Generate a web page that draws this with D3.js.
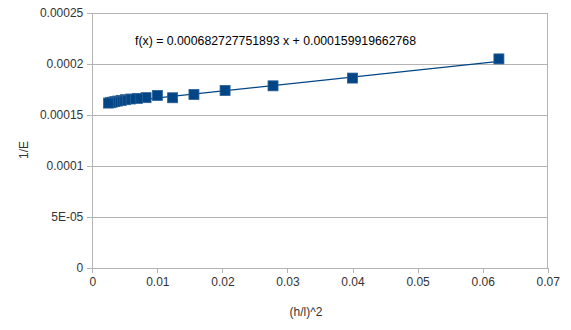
<!DOCTYPE html>
<html><head><meta charset="utf-8">
<script src="https://cdn.jsdelivr.net/npm/d3@7/dist/d3.min.js"></script>
<style>html,body{margin:0;padding:0;background:#fff;}svg{display:block;font-family:"Liberation Sans",Arial,sans-serif;}</style>
</head><body>
<script>
const xValues = [0.0625, 0.04, 0.02778, 0.02041, 0.015625, 0.012346, 0.01, 0.008264, 0.006944, 0.005917, 0.005102, 0.004444, 0.003906, 0.00346, 0.003086, 0.00277, 0.0025];
const yValues = [0.000205, 0.0001862, 0.0001786, 0.000174, 0.0001701, 0.0001669, 0.0001692, 0.0001670, 0.0001663, 0.0001657, 0.0001650, 0.0001643, 0.0001637, 0.0001631, 0.0001626, 0.0001621, 0.0001617];
const xTicks = [0, 0.01, 0.02, 0.03, 0.04, 0.05, 0.06, 0.07];
const xTickLabels = ["0", "0.01", "0.02", "0.03", "0.04", "0.05", "0.06", "0.07"];
const yTicks = [0, 0.00005, 0.0001, 0.00015, 0.0002, 0.00025];
const yTickLabels = ["0", "5E-05", "0.0001", "0.00015", "0.0002", "0.00025"];
const slope = 0.000682727751893, intercept = 0.000159919662768;
const equationText = "f(x) = 0.000682727751893 x + 0.000159919662768";
const xTitle = "(h/l)^2", yTitle = "1/E";

const W = 571, H = 330;
const svg = d3.select("body").append("svg").attr("width", W).attr("height", H);
const x = d3.scaleLinear().domain([0, 0.07]).range([92.3, 547.7]);
const y = d3.scaleLinear().domain([0, 0.00025]).range([268, 13]);

svg.append("g").selectAll("line").data(yTicks.slice(1)).join("line")
  .attr("x1", x(0)).attr("x2", x(0.07)).attr("y1", d => y(d)).attr("y2", d => y(d))
  .attr("stroke", "#b3b3b3").attr("stroke-width", 1).attr("shape-rendering", "crispEdges");
svg.append("line").attr("x1", x(0.07)).attr("x2", x(0.07)).attr("y1", y(0.00025)).attr("y2", y(0))
  .attr("stroke", "#b3b3b3").attr("shape-rendering", "crispEdges");

const xAxis = d3.axisBottom(x).tickValues(xTicks).tickFormat((d, i) => xTickLabels[i]).tickSize(5).tickPadding(4);
const gx = svg.append("g").attr("transform", `translate(0,${y(0)})`).call(xAxis);
const yAxis = d3.axisLeft(y).tickValues(yTicks).tickFormat((d, i) => yTickLabels[i]).tickSize(5).tickPadding(4);
const gy = svg.append("g").attr("transform", `translate(${x(0)},0)`).call(yAxis);
[gx, gy].forEach(g => {
  g.selectAll(".domain").attr("stroke", "#b3b3b3").attr("shape-rendering", "crispEdges");
  g.selectAll(".tick line").attr("stroke", "#b3b3b3").attr("shape-rendering", "crispEdges");
  g.selectAll(".tick text").attr("fill", "#333").attr("font-size", "12px").attr("font-family", "Liberation Sans, Arial, sans-serif");
});
gx.select(".domain").attr("d", `M${x(0)},0H${x(0.07)}`);
gy.select(".domain").attr("d", `M0,${y(0)}V${y(0.00025)}`);

const xmin = d3.min(xValues), xmax = d3.max(xValues);
svg.append("line")
  .attr("x1", x(xmin)).attr("y1", y(slope * xmin + intercept))
  .attr("x2", x(xmax)).attr("y2", y(slope * xmax + intercept))
  .attr("stroke", "#004586").attr("stroke-width", 1.2);

const s = 10;
svg.append("g").selectAll("rect").data(xValues.map((d, i) => [d, yValues[i]])).join("rect")
  .attr("x", d => x(d[0]) - s / 2).attr("y", d => y(d[1]) - s / 2)
  .attr("width", s).attr("height", s).attr("fill", "#004586")
  .attr("stroke", "#2a5f96").attr("stroke-width", 0.8);

svg.append("text").attr("x", 135).attr("y", 45).attr("font-size", "12.3px").attr("fill", "#000")
  .text(equationText);
svg.append("text").attr("x", 306).attr("y", 316).attr("text-anchor", "middle")
  .attr("font-size", "12px").attr("fill", "#333").text(xTitle);
svg.append("text").attr("transform", "translate(28,150) rotate(-90)").attr("text-anchor", "middle")
  .attr("font-size", "12px").attr("fill", "#333").text(yTitle);
</script>
</body></html>
